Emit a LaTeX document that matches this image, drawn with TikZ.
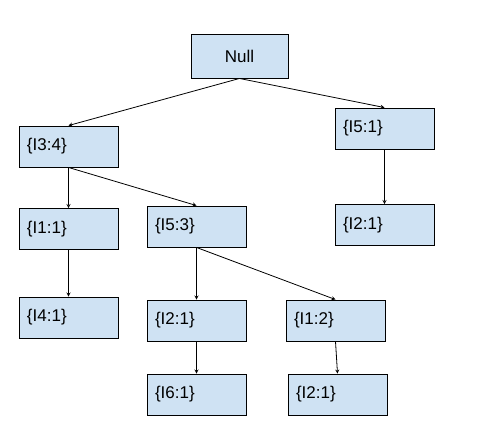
\documentclass[tikz,border=0pt]{standalone}
\usepackage{fontspec}
\setmainfont{Liberation Sans}
\usepackage{xcolor}
\usepackage{tikz}
\usetikzlibrary{positioning}
\definecolor{NodeBlue}{RGB}{207,226,243}
\definecolor{EdgeBlack}{RGB}{0,0,0}

\begin{document}
\begin{tikzpicture}[
  x=1pt, y=-1pt,
  block/.style={rectangle, draw=EdgeBlack, fill=NodeBlue, line width=0.9pt, minimum height=41pt, inner xsep=8pt, inner ysep=0pt, text width=83pt, align=left, font=\fontsize{17}{20}\selectfont},
  rootblock/.style={block, minimum height=44pt, text width=81pt, align=center},
  arrow/.style={->, >=stealth, line width=0.8pt, draw=EdgeBlack}
]
  \useasboundingbox (0,0) rectangle (500,432);

  % Nodes
  \node[rootblock] (null) at (239.5,56) {Null};
  \node[block] (i34) at (68.5,146.5) {\{I3:4\}};
  \node[block] (i51) at (384.5,128.5) {\{I5:1\}};
  \node[block] (i11) at (68.5,229) {\{I1:1\}};
  \node[block] (i53) at (196.5,226.5) {\{I5:3\}};
  \node[block] (i21a) at (384.5,225) {\{I2:1\}};
  \node[block] (i41) at (68.5,317.5) {\{I4:1\}};
  \node[block] (i21b) at (196.5,320.5) {\{I2:1\}};
  \node[block] (i12) at (335.5,320.5) {\{I1:2\}};
  \node[block] (i61) at (196.5,394.5) {\{I6:1\}};
  \node[block] (i21c) at (337.5,394.5) {\{I2:1\}};

  % Lines / Arrows
  \draw[arrow] (null.south) -- (i34.north);
  \draw[arrow] (null.south) -- (i51.north);
  \draw[arrow] (i34.south) -- (i11.north);
  \draw[arrow] (i34.south) -- (i53.north);
  \draw[arrow] (i51.south) -- (i21a.north);
  \draw[arrow] (i11.south) -- (i41.north);
  \draw[arrow] (i53.south) -- (i21b.north);
  \draw[arrow] (i53.south) -- (i12.north);
  \draw[arrow] (i21b.south) -- (i61.north);
  \draw[arrow] (i12.south) -- (i21c.north);
\end{tikzpicture}
\end{document}
